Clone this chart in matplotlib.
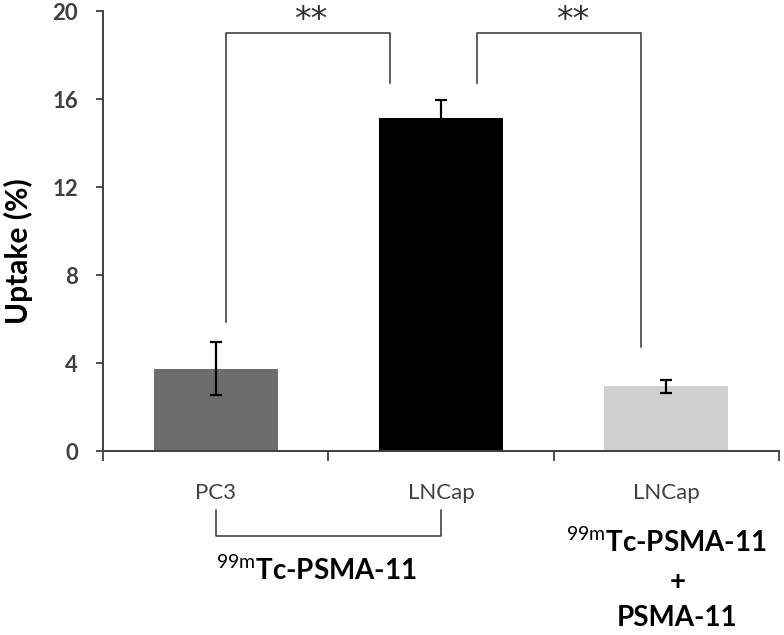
import numpy as np
import matplotlib
matplotlib.use("Agg")
import matplotlib.pyplot as plt

plt.rcParams['font.family'] = ['Lato', 'DejaVu Sans']
plt.rcParams['mathtext.fontset'] = 'custom'
plt.rcParams['mathtext.rm'] = 'Lato'
plt.rcParams['mathtext.bf'] = 'Lato:bold'

# data
cell_lines = ["PC3", "LNCap", "LNCap"]
uptake = [3.75, 15.15, 2.95]
uptake_err = [1.2, 0.8, 0.3]
bar_colors = ["#6d6d6d", "#000000", "#d0d0d0"]
y_ticks = [0, 4, 8, 12, 16, 20]
signif = ["**", "**"]

grey = "#404040"

fig = plt.figure(figsize=(7.84, 6.35), dpi=100)
ax = fig.add_axes([103 / 784, 1 - 451 / 635, 676 / 784, 440 / 635])

x = np.arange(len(uptake))
ax.bar(x, uptake, width=0.55, color=bar_colors, zorder=2)
ax.errorbar(x, uptake, yerr=uptake_err, fmt="none", ecolor="black",
            elinewidth=1.6, capsize=4.5, capthick=1.6, zorder=3)

ax.set_xlim(-0.5, 2.5)
ax.set_ylim(0, 20)
ax.set_yticks(y_ticks)
ax.set_xticks([-0.5, 0.5, 1.5, 2.5])
ax.set_xticklabels([])
ax.tick_params(axis="y", direction="out", length=5, width=1.3, color=grey,
               labelsize=16, labelcolor=grey, pad=13)
ax.tick_params(axis="x", direction="out", length=7, width=1.3, color=grey)
for lab in ax.get_yticklabels():
    lab.set_fontweight("bold")
for s in ["top", "right"]:
    ax.spines[s].set_visible(False)
for s in ["left", "bottom"]:
    ax.spines[s].set_color(grey)
    ax.spines[s].set_linewidth(1.4)

ax.set_ylabel("Uptake (%)", fontsize=21.5, fontweight="bold", color="black")
ax.yaxis.set_label_coords(-0.103, 0.4545)

# significance brackets
lc = "#333333"
ax.plot([0.046, 0.046, 0.774, 0.774], [5.86, 19.0, 19.0, 16.73],
        color=lc, lw=1.1, clip_on=False)
ax.plot([1.16, 1.16, 1.888, 1.888], [16.73, 19.0, 19.0, 4.73],
        color=lc, lw=1.1, clip_on=False)
for xs, star in zip([0.42, 1.586], signif):
    ax.text(xs, 19.15, star, ha="center", va="baseline", fontsize=24,
            color="#333333", family="DejaVu Sans", clip_on=False)

# category labels below the axis
for xi, name in zip(x, cell_lines):
    ax.text(xi, -1.91, name, ha="center", va="center", fontsize=16,
            color=grey, clip_on=False)

ax.plot([0.0, 0.0, 1.0, 1.0], [-2.68, -3.86, -3.86, -2.68],
        color=lc, lw=1.1, clip_on=False)
ax.text(0.445, -5.41, r"$^{\mathrm{99m}}$Tc-PSMA-11", ha="center", va="center",
        fontsize=20, fontweight="bold", color="black", clip_on=False)
ax.text(2.0, -4.14, r"$^{\mathrm{99m}}$Tc-PSMA-11", ha="center", va="center",
        fontsize=20, fontweight="bold", color="black", clip_on=False)
ax.text(2.05, -5.95, "+", ha="center", va="center",
        fontsize=20, fontweight="bold", color="black", clip_on=False)
ax.text(2.05, -7.59, "PSMA-11", ha="center", va="center",
        fontsize=20, fontweight="bold", color="black", clip_on=False)

fig.savefig("out.png", dpi=100)
